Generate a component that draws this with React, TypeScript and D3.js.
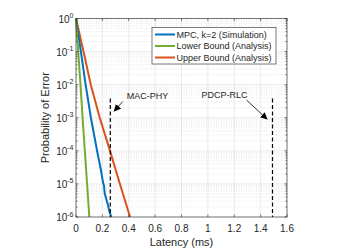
import { useRef, useEffect } from 'react';
import * as d3 from 'd3';

// probability levels (decades) used by the analysis curves
const boundProb = [1, 1e-1, 1e-2, 1e-3, 1e-4, 1e-5, 1e-6];
const lowerLatency = [0, 0.017, 0.034, 0.05, 0.067, 0.084, 0.101];
const upperLatency = [0, 0.057, 0.112, 0.18, 0.258, 0.333, 0.41];

// simulation curve
const simProb = [1, 1e-1, 1e-2, 1e-3, 1e-4, 2.5e-5, 1.1e-5, 9e-6, 5e-6, 2.5e-6, 1.4e-6, 1e-6];
const simLatency = [0, 0.037, 0.073, 0.113, 0.16, 0.19, 0.205, 0.212, 0.218, 0.24, 0.255, 0.268];

const seriesNames = ['MPC, k=2 (Simulation)', 'Lower Bound (Analysis)', 'Upper Bound (Analysis)'];
const seriesColors = ['#0072BD', '#77AC30', '#D95319'];

const xTicks = [0, 0.2, 0.4, 0.6, 0.8, 1, 1.2, 1.4, 1.6];
const yExponents = [0, -1, -2, -3, -4, -5, -6];

// latency budgets
const budgetNames = ['MAC-PHY', 'PDCP-RLC'];
const budgetLatency = [0.26, 1.49];
const budgetTop = 3.8e-3;

const App = () => {
  const svgRef = useRef<SVGSVGElement>(null);

  useEffect(() => {
    const width = 351;
    const height = 248;
    const margin = { top: 18.5, right: 64, bottom: 31, left: 76 };
    const font = 'Liberation Sans, Arial, Helvetica, sans-serif';
    const axisColor = '#262626';

    const svg = d3.select(svgRef.current);
    svg.selectAll('*').remove();

    const x = d3.scaleLinear().domain([0, 1.6]).range([margin.left, width - margin.right]);
    const y = d3.scaleLog().domain([1e-6, 1]).range([height - margin.bottom, margin.top]);
    const [x0, x1] = x.range();
    const [y0, y1] = y.range();

    svg.append('rect').attr('x', x0).attr('y', y1).attr('width', x1 - x0).attr('height', y0 - y1).attr('fill', '#fff');

    // minor y grid
    const minor: number[] = [];
    yExponents.slice(1).forEach(e => {
      for (let k = 2; k <= 9; k++) minor.push(k * Math.pow(10, e));
    });
    const grid = svg.append('g');
    grid.selectAll('line.minor')
      .data(minor)
      .enter()
      .append('line')
      .attr('x1', x0).attr('x2', x1)
      .attr('y1', d => y(d)).attr('y2', d => y(d))
      .attr('stroke', axisColor).attr('stroke-opacity', 0.22)
      .attr('stroke-width', 0.5).attr('stroke-dasharray', '1,1.5');

    // major grid
    grid.selectAll('line.gy')
      .data(yExponents)
      .enter()
      .append('line')
      .attr('x1', x0).attr('x2', x1)
      .attr('y1', d => y(Math.pow(10, d))).attr('y2', d => y(Math.pow(10, d)))
      .attr('stroke', axisColor).attr('stroke-opacity', 0.15).attr('stroke-width', 0.6);
    grid.selectAll('line.gx')
      .data(xTicks)
      .enter()
      .append('line')
      .attr('x1', d => x(d)).attr('x2', d => x(d))
      .attr('y1', y0).attr('y2', y1)
      .attr('stroke', axisColor).attr('stroke-opacity', 0.15).attr('stroke-width', 0.6);

    // curves
    const line = d3.line<[number, number]>().x(d => x(d[0])).y(d => y(d[1]));
    const curves: [number, number][][] = [
      d3.zip(simLatency, simProb) as [number, number][],
      d3.zip(lowerLatency, boundProb) as [number, number][],
      d3.zip(upperLatency, boundProb) as [number, number][],
    ];
    const order = [2, 0, 1];
    order.forEach(i => {
      svg.append('path')
        .attr('d', line(curves[i]))
        .attr('fill', 'none')
        .attr('stroke', seriesColors[i])
        .attr('stroke-width', 2);
    });

    // budget dashed lines
    svg.selectAll('line.budget')
      .data(budgetLatency)
      .enter()
      .append('line')
      .attr('x1', d => x(d)).attr('x2', d => x(d))
      .attr('y1', y(budgetTop)).attr('y2', y0)
      .attr('stroke', '#000').attr('stroke-width', 1.2).attr('stroke-dasharray', '4,2.5');

    // arrows + labels
    svg.append('defs').append('marker')
      .attr('id', 'ah').attr('viewBox', '0 0 10 10')
      .attr('refX', 10).attr('refY', 5)
      .attr('markerWidth', 7).attr('markerHeight', 7)
      .attr('markerUnits', 'userSpaceOnUse')
      .attr('orient', 'auto')
      .append('path').attr('d', 'M0,0 L10,5 L0,10 z').attr('fill', '#000');

    const bx0 = x(budgetLatency[0]);
    const bx1 = x(budgetLatency[1]);
    svg.append('line')
      .attr('x1', bx0 + 12.5).attr('y1', 101.5).attr('x2', bx0 + 3.5).attr('y2', 111.5)
      .attr('stroke', '#000').attr('stroke-width', 0.8).attr('marker-end', 'url(#ah)');
    svg.append('line')
      .attr('x1', bx1 - 26).attr('y1', 100).attr('x2', bx1 - 5).attr('y2', 119.5)
      .attr('stroke', '#000').attr('stroke-width', 0.8).attr('marker-end', 'url(#ah)');
    svg.append('text')
      .attr('x', bx0 + 16.5).attr('y', 98.5)
      .attr('font-family', font).attr('font-size', 9).attr('fill', axisColor)
      .text(budgetNames[0]);
    svg.append('text')
      .attr('x', bx1 - 71).attr('y', 98)
      .attr('font-family', font).attr('font-size', 9).attr('fill', axisColor)
      .text(budgetNames[1]);

    // axes box
    svg.append('rect')
      .attr('x', x0).attr('y', y1).attr('width', x1 - x0).attr('height', y0 - y1)
      .attr('fill', 'none').attr('stroke', axisColor).attr('stroke-width', 0.6);

    // ticks (inward)
    const ticks = svg.append('g').attr('stroke', axisColor).attr('stroke-width', 0.6);
    xTicks.forEach(t => {
      ticks.append('line').attr('x1', x(t)).attr('x2', x(t)).attr('y1', y0).attr('y2', y0 - 2.5);
      ticks.append('line').attr('x1', x(t)).attr('x2', x(t)).attr('y1', y1).attr('y2', y1 + 2.5);
    });
    yExponents.forEach(e => {
      const yy = y(Math.pow(10, e));
      ticks.append('line').attr('x1', x0).attr('x2', x0 + 2.5).attr('y1', yy).attr('y2', yy);
      ticks.append('line').attr('x1', x1).attr('x2', x1 - 2.5).attr('y1', yy).attr('y2', yy);
    });
    minor.forEach(m => {
      const yy = y(m);
      ticks.append('line').attr('x1', x0).attr('x2', x0 + 1.5).attr('y1', yy).attr('y2', yy);
      ticks.append('line').attr('x1', x1).attr('x2', x1 - 1.5).attr('y1', yy).attr('y2', yy);
    });

    // tick labels
    svg.selectAll('text.xt')
      .data(xTicks)
      .enter()
      .append('text')
      .attr('x', d => x(d)).attr('y', y0 + 15)
      .attr('text-anchor', 'middle')
      .attr('font-family', font).attr('font-size', 10).attr('fill', axisColor)
      .text(d => String(d));

    const yl = svg.selectAll('text.yt')
      .data(yExponents)
      .enter()
      .append('text')
      .attr('x', x0 - 2.5).attr('y', d => y(Math.pow(10, d)) + 4)
      .attr('text-anchor', 'end')
      .attr('font-family', font).attr('font-size', 10).attr('fill', axisColor);
    yl.append('tspan').text('10');
    yl.append('tspan').attr('dy', -4.5).attr('font-size', 7).text(d => String(d));

    // axis titles
    svg.append('text')
      .attr('x', (x0 + x1) / 2).attr('y', 246)
      .attr('text-anchor', 'middle')
      .attr('font-family', font).attr('font-size', 11).attr('fill', axisColor)
      .text('Latency (ms)');
    svg.append('text')
      .attr('transform', `translate(49, ${(y0 + y1) / 2}) rotate(-90)`)
      .attr('text-anchor', 'middle')
      .attr('font-family', font).attr('font-size', 11).attr('fill', axisColor)
      .text('Probability of Error');

    // legend
    const lg = svg.append('g');
    lg.append('rect')
      .attr('x', 152).attr('y', 27.5).attr('width', 124).attr('height', 36.5)
      .attr('fill', '#fff').attr('stroke', axisColor).attr('stroke-width', 0.6);
    seriesNames.forEach((name, i) => {
      const yy = 34.5 + i * 11.5;
      lg.append('line')
        .attr('x1', 155).attr('x2', 175).attr('y1', yy).attr('y2', yy)
        .attr('stroke', seriesColors[i]).attr('stroke-width', 2);
      lg.append('text')
        .attr('x', 176.5).attr('y', yy + 3.2)
        .attr('font-family', font).attr('font-size', 9).attr('fill', axisColor)
        .text(name);
    });
  }, []);

  return (
    <svg ref={svgRef} width={351} height={248}
      style={{ position: 'absolute', left: 0, top: 0, background: '#fff' }}>
    </svg>
  );
};

export default App;
